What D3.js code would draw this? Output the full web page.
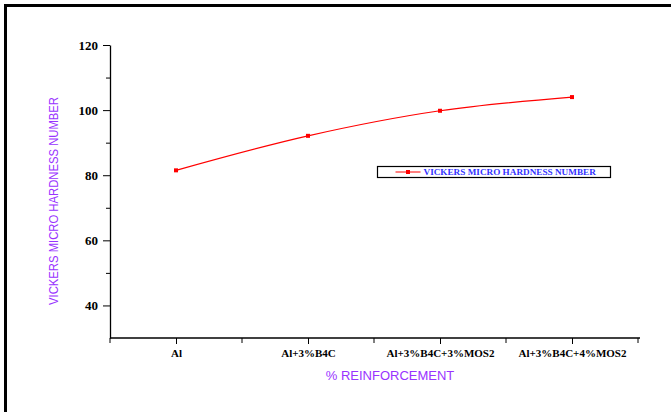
<!DOCTYPE html>
<html lang="en">
  <head>
    <meta charset="utf-8">
    <title>Vickers micro hardness</title>
    <script type="text/javascript" src="https://cdn.jsdelivr.net/npm/d3@7/dist/d3.min.js"></script>
    <style>
      body { margin: 0; background: #fff; }
    </style>
  </head>
  <body>
    <script type="text/javascript">

    var w = 671;
    var h = 412;

    var categories = ["Al", "Al+3%B4C", "Al+3%B4C+3%MOS2", "Al+3%B4C+4%MOS2"];
    var hardness = [81.5, 92.1, 99.8, 104.0];
    var yTicks = [40, 60, 80, 100, 120];
    var yMinorTicks = [50, 70, 90, 110];
    var seriesName = "VICKERS MICRO HARDNESS NUMBER";

    // plot edges (window.top is reserved, so use other names)
    var plotLeft = 110, plotRight = 638, plotTop = 45, plotBottom = 338;

    var xScale = d3.scalePoint()
                   .domain(categories)
                   .range([plotLeft, plotRight])
                   .padding(0.5);

    var yScale = d3.scaleLinear()
                   .domain([30, 120])
                   .range([plotBottom, plotTop]);

    var mySvg = d3.select("body")
                  .append("svg")
                  .attr("width", w)
                  .attr("height", h);

    // outer frame (only top and left edges are in view)
    mySvg.append("rect")
         .attr("x", 5.5)
         .attr("y", 5.5)
         .attr("width", w + 20)
         .attr("height", h + 20)
         .attr("fill", "none")
         .attr("stroke", "#000")
         .attr("stroke-width", 3);

    // y axis
    var yAxis = d3.axisLeft(yScale)
                  .tickValues(yTicks)
                  .tickSize(7)
                  .tickPadding(5)
                  .tickSizeOuter(0);

    var gy = mySvg.append("g")
         .attr("transform", "translate(" + plotLeft + ",0)")
         .call(yAxis);
    gy.selectAll("text")
      .attr("font-family", "Liberation Serif, serif")
      .attr("font-weight", "bold")
      .attr("font-size", "13px")
      .attr("fill", "#000");
    gy.select(".domain").attr("stroke-width", 1.3);

    mySvg.append("g")
         .attr("transform", "translate(" + plotLeft + ",0)")
         .call(d3.axisLeft(yScale).tickValues(yMinorTicks).tickSize(4).tickFormat("").tickSizeOuter(0))
         .select(".domain").remove();

    // x axis
    var xAxis = d3.axisBottom(xScale)
                  .tickSize(6)
                  .tickPadding(5)
                  .tickSizeOuter(0);

    var gx = mySvg.append("g")
         .attr("transform", "translate(0," + plotBottom + ")")
         .call(xAxis);
    gx.selectAll("text")
      .attr("font-family", "Liberation Serif, serif")
      .attr("font-weight", "bold")
      .attr("font-size", "11px")
      .attr("fill", "#000");
    gx.select(".domain").attr("d", "M" + plotLeft + ",0H" + (plotRight + 2)).attr("stroke-width", 1.3);

    var minorX = categories.map(function(c) { return xScale(c) - xScale.step() / 2; });
    minorX.push(xScale(categories[categories.length - 1]) + xScale.step() / 2);
    mySvg.append("g")
         .attr("transform", "translate(0," + plotBottom + ")")
         .selectAll("line")
         .data(minorX)
         .enter()
         .append("line")
         .attr("x1", function(d) { return d; })
         .attr("x2", function(d) { return d; })
         .attr("y1", 0)
         .attr("y2", 5)
         .attr("stroke", "#000");

    // axis titles
    mySvg.append("text")
         .attr("transform", "translate(58,201) rotate(-90)")
         .attr("text-anchor", "middle")
         .attr("font-family", "Liberation Sans, Arial, sans-serif")
         .attr("font-size", "12.5px")
         .attr("fill", "#9933ff")
         .attr("textLength", 208)
         .attr("lengthAdjust", "spacingAndGlyphs")
         .text(seriesName);

    mySvg.append("text")
         .attr("x", 390)
         .attr("y", 380)
         .attr("text-anchor", "middle")
         .attr("font-family", "Liberation Sans, Arial, sans-serif")
         .attr("font-size", "13px")
         .attr("fill", "#9933ff")
         .text("% REINFORCEMENT");

    // series line
    var line = d3.line()
                 .x(function(d, i) { return xScale(categories[i]); })
                 .y(function(d) { return yScale(d); })
                 .curve(d3.curveCatmullRom);

    mySvg.append("path")
         .datum(hardness)
         .attr("d", line)
         .attr("fill", "none")
         .attr("stroke", "#ff0000")
         .attr("stroke-width", 1.2);

    mySvg.selectAll("rect.pt")
         .data(hardness)
         .enter()
         .append("rect")
         .attr("class", "pt")
         .attr("x", function(d, i) { return xScale(categories[i]) - 2; })
         .attr("y", function(d) { return yScale(d) - 2; })
         .attr("width", 4)
         .attr("height", 4)
         .attr("fill", "#ff0000");

    // legend
    var lg = mySvg.append("g").attr("transform", "translate(377.5,166.5)");
    lg.append("rect")
      .attr("width", 233)
      .attr("height", 11)
      .attr("fill", "#fff")
      .attr("stroke", "#000")
      .attr("stroke-width", 1.2);
    lg.append("line")
      .attr("x1", 18).attr("x2", 43)
      .attr("y1", 5.5).attr("y2", 5.5)
      .attr("stroke", "#ff0000");
    lg.append("rect")
      .attr("x", 28.5).attr("y", 3.5)
      .attr("width", 4).attr("height", 4)
      .attr("fill", "#ff0000");
    lg.append("text")
      .attr("x", 46)
      .attr("y", 8.8)
      .attr("font-family", "Liberation Serif, serif")
      .attr("font-weight", "bold")
      .attr("font-size", "9.2px")
      .attr("fill", "#3333ff")
      .text(seriesName);

    </script>
  </body>
</html>
